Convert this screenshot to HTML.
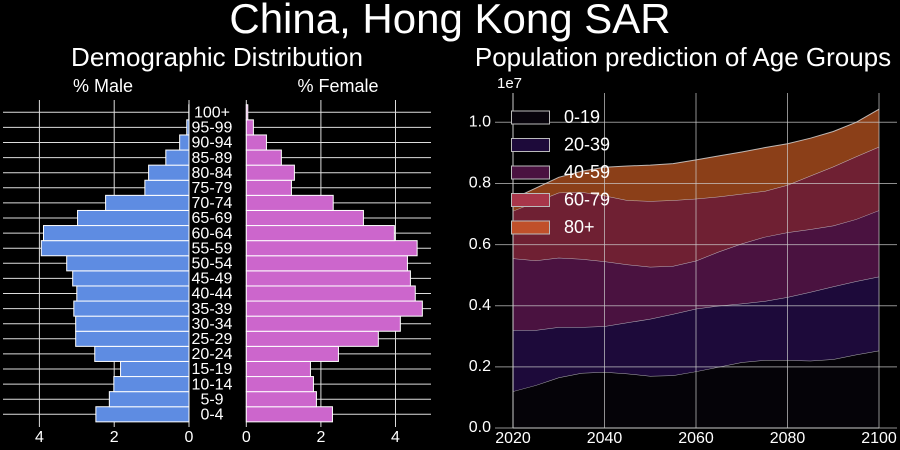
<!DOCTYPE html>
<html><head><meta charset="utf-8"><style>
body{margin:0;background:#000;width:900px;height:450px;overflow:hidden}
svg{display:block;font-family:"Liberation Sans",sans-serif}
</style></head><body>
<svg id="s" width="900" height="450" xmlns="http://www.w3.org/2000/svg">
<rect width="900" height="450" fill="#000"/>
<text x="450" y="22" font-size="42" fill="#fff" text-anchor="middle" dominant-baseline="middle">China, Hong Kong SAR</text>
<text x="217" y="59" font-size="26" fill="#fff" text-anchor="middle" dominant-baseline="middle">Demographic Distribution</text>
<text x="683" y="59" font-size="26" fill="#fff" text-anchor="middle" dominant-baseline="middle">Population prediction of Age Groups</text>
<text x="103" y="87" font-size="18" fill="#fff" text-anchor="middle" dominant-baseline="middle">% Male</text>
<text x="338" y="87" font-size="18" fill="#fff" text-anchor="middle" dominant-baseline="middle">% Female</text>
<text x="497" y="84" font-size="15" fill="#fff" dominant-baseline="middle">1e7</text>
<g id="pyr"></g><g id="area"></g>
</svg>
<script>
const ageGroups=["0-4","5-9","10-14","15-19","20-24","25-29","30-34","35-39","40-44","45-49","50-54","55-59","60-64","65-69","70-74","75-79","80-84","85-89","90-94","95-99","100+"];
const maleVals=[2.49,2.13,2.01,1.83,2.52,3.03,3.03,3.08,3.0,3.11,3.27,3.95,3.89,2.98,2.23,1.18,1.08,0.62,0.25,0.06,0.005];
const femaleVals=[2.31,1.88,1.80,1.72,2.47,3.54,4.13,4.72,4.53,4.40,4.32,4.58,3.97,3.14,2.33,1.21,1.29,0.94,0.54,0.19,0.04];
const pyrTicks=[0,2,4];
const years=[2020,2025,2030,2035,2040,2045,2050,2055,2060,2065,2070,2075,2080,2085,2090,2095,2100];
const groupNames=["0-19","20-39","40-59","60-79","80+"];
const g0=[.12,.14,.165,.18,.183,.178,.17,.172,.185,.2,.215,.222,.222,.22,.225,.24,.253];
const g1=[.20,.18,.165,.15,.15,.167,.187,.201,.205,.20,.192,.193,.206,.225,.238,.24,.242];
const g2=[.235,.228,.227,.223,.212,.19,.17,.157,.157,.177,.196,.21,.212,.205,.199,.203,.217];
const g3=[.155,.192,.213,.219,.215,.21,.215,.215,.203,.18,.163,.15,.155,.175,.193,.205,.208];
const g4=[.04,.045,.05,.068,.093,.112,.118,.12,.127,.133,.137,.142,.135,.123,.115,.112,.123];
const xTicks=[2020,2040,2060,2080,2100];
const yTicks=[0,0.2,0.4,0.6,0.8,1.0];

const NS="http://www.w3.org/2000/svg";
function mk(p,t,a){const e=document.createElementNS(NS,t);for(const k in a)e.setAttribute(k,a[k]);p.appendChild(e);return e;}
const pyr=document.getElementById('pyr');
const mX=v=>189-v*37.4, fX=v=>246.3+v*37.3;
const rowY=i=>414.3-i*15.1;
pyrTicks.forEach(t=>{
 let l=mk(pyr,'line',{x1:mX(t),x2:mX(t),y1:100,y2:427,stroke:'#ddd','stroke-width':1});
 
 l=mk(pyr,'line',{x1:fX(t),x2:fX(t),y1:100,y2:427,stroke:'#ddd','stroke-width':1});
 
 let tx=mk(pyr,'text',{x:mX(t),y:438,'font-size':16,fill:'#fff','text-anchor':'middle','dominant-baseline':'middle'});tx.textContent=t;
 
 tx=mk(pyr,'text',{x:fX(t),y:438,'font-size':16,fill:'#fff','text-anchor':'middle','dominant-baseline':'middle'});tx.textContent=t;
 
});
ageGroups.forEach((g,i)=>{
 const y=rowY(i);
 let l=mk(pyr,'line',{x1:3,x2:189,y1:y,y2:y,stroke:'#ddd','stroke-width':1});
 
 l=mk(pyr,'line',{x1:246,x2:431,y1:y,y2:y,stroke:'#ddd','stroke-width':1});
 
});
ageGroups.forEach((g,i)=>{
 const y=rowY(i);
 let r=mk(pyr,'rect',{x:mX(maleVals[i]),y:y-7.55,width:maleVals[i]*37.4,height:15.1,fill:'#5e8ce2',stroke:'#fff','stroke-width':1});
 
 r=mk(pyr,'rect',{x:fX(0),y:y-7.55,width:femaleVals[i]*37.3,height:15.1,fill:'#cc66cc',stroke:'#fff','stroke-width':1});
 
 const t=mk(pyr,'text',{x:212,y:y+1,'font-size':16,fill:'#fff','text-anchor':'middle','dominant-baseline':'middle'});t.textContent=g;
 
});
const area=document.getElementById('area');
const ax=yr=>513+(yr-2020)/80*366, ay=v=>428-v*305.7;
const groups=[g0,g1,g2,g3,g4];
const fills=['#050308','#1d0a3a','#4a1240','#6f2033','#8b3f18'];
const legFills=['#08040c','#1d0a3a','#4a1240','#a8364a','#c0502a'];
let base=years.map(()=>0);
groups.forEach((g,k)=>{
 const top=base.map((b,i)=>b+g[i]);
 let d='M'+years.map((y,i)=>ax(y)+','+ay(top[i])).join('L');
 d+='L'+years.map((y,i)=>ax(y)+','+ay(base[i])).reverse().join('L')+'Z';
 const p=mk(area,'path',{d:d,fill:fills[k]});
 
 const ln=mk(area,'polyline',{points:years.map((y,i)=>ax(y)+','+ay(top[i])).join(' '),fill:'none',stroke:'#ddd','stroke-opacity':0.8,'stroke-width':1});
 
 base=top;
});
xTicks.forEach(t=>{
 const l=mk(area,'line',{x1:ax(t),x2:ax(t),y1:93,y2:428,stroke:'#ccc','stroke-opacity':0.7,'stroke-width':1});
 
 const tx=mk(area,'text',{x:ax(t),y:439,'font-size':16,fill:'#fff','text-anchor':'middle','dominant-baseline':'middle'});tx.textContent=t;
 
});
yTicks.forEach(t=>{
 const l=mk(area,'line',{x1:495,x2:897,y1:ay(t),y2:ay(t),stroke:'#ccc','stroke-opacity':0.7,'stroke-width':1});
 
 const tx=mk(area,'text',{x:491,y:ay(t),'font-size':16,fill:'#fff','text-anchor':'end','dominant-baseline':'middle'});tx.textContent=t.toFixed(1);
 
});
let a=mk(area,'line',{x1:513,x2:513,y1:93,y2:428,stroke:'#ccc','stroke-width':1});

a=mk(area,'line',{x1:513,x2:879,y1:428,y2:428,stroke:'#ccc','stroke-width':1});

groupNames.forEach((n,k)=>{
 const y=117+k*27.5;
 const r=mk(area,'rect',{x:511.5,y:y-6,width:38,height:13,fill:legFills[k],stroke:'#bbb','stroke-width':1});
 
 const t=mk(area,'text',{x:564,y:y+1,'font-size':18,fill:'#fff','dominant-baseline':'middle'});t.textContent=n;
 
});
</script>
</body></html>
